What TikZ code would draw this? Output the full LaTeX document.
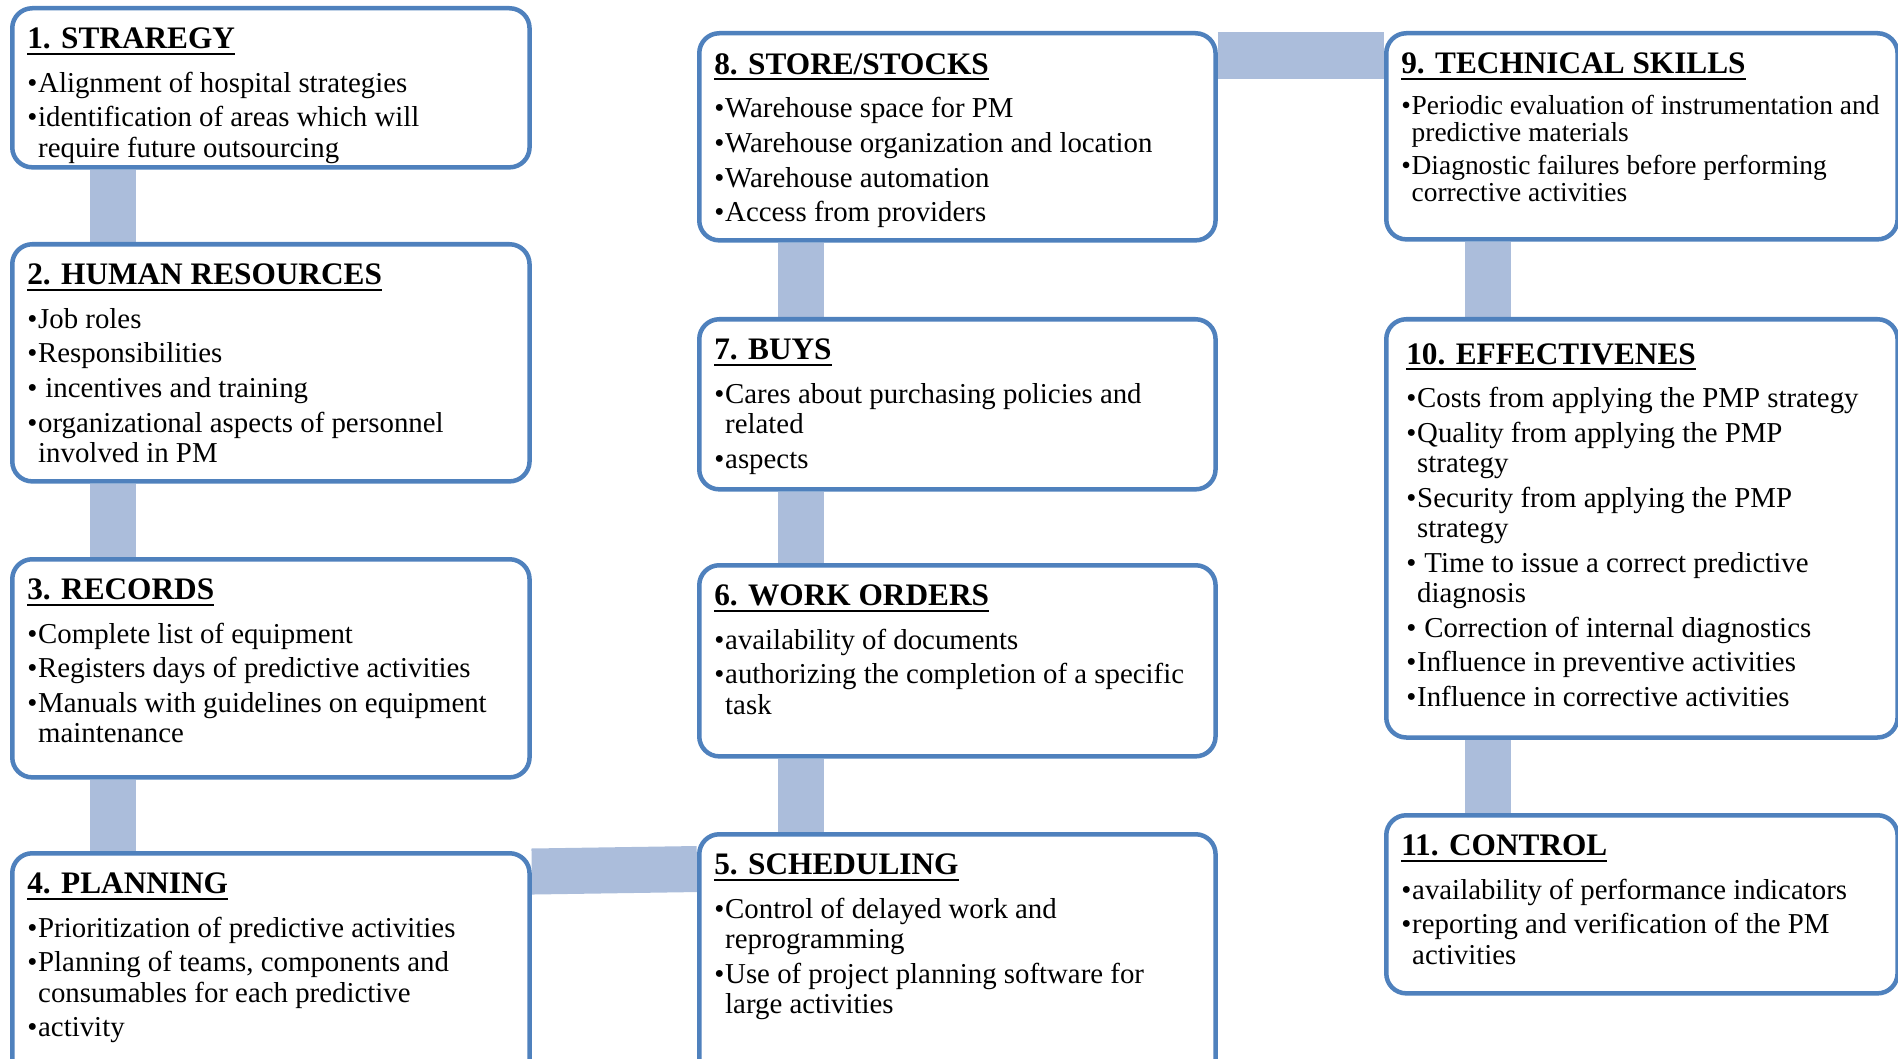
\documentclass[tikz,border=0pt]{standalone}
\usepackage{fontspec}
\setmainfont{Liberation Serif}
\pgfdeclarelayer{background}
\pgfsetlayers{background,main}
\definecolor{cardblue}{RGB}{79,129,189}
\definecolor{linkblue}{RGB}{171,189,219}

\newcommand{\titlefont}{\fontsize{8.9pt}{10pt}\selectfont\bfseries}
\newcommand{\bodyfont}{\fontsize{8.2pt}{8.54pt}\selectfont}
\newcommand{\ttlunder}[1]{\setbox0\hbox{#1}\leavevmode\rlap{\rule[-1.6pt]{\wd0}{0.55pt}}\box0}
\newcommand{\bul}[1]{\par\hangindent=0.38em\hangafter=1\noindent\makebox[0.38em][l]{\textbullet}#1}
\newcommand{\cardbody}[4]{\parbox[t][#2][t]{#1}{\raggedright\bodyfont\setlength{\parskip}{1.4pt}%
  {\titlefont\ttlunder{#3}\par}\vspace{2.3pt}#4}}

\begin{document}
\begin{tikzpicture}[x=0.01cm,y=-0.01cm,
  card/.style={draw=cardblue, line width=0.045cm, rounded corners=0.2cm, fill=white,
    anchor=north west, inner xsep=0.15cm, inner ysep=0.2cm},
  link/.style={draw=linkblue, line width=0.46cm}]
\useasboundingbox (0,0) rectangle (1898,1058);
\clip (0,0) rectangle (1898,1058);

\node[card] (s1) at (10,6) {\cardbody{4.87cm}{1.19cm}{1. STRAREGY}{%
  \bul{Alignment of hospital strategies}
  \bul{identification of areas which will\newline require future outsourcing}}};
\node[card] (s2) at (10,242) {\cardbody{4.87cm}{1.97cm}{2. HUMAN RESOURCES}{%
  \bul{Job roles}
  \bul{Responsibilities}
  \bul{\ incentives and training}
  \bul{organizational aspects of personnel\newline involved in PM}}};
\node[card] (s3) at (10,557) {\cardbody{4.87cm}{1.78cm}{3. RECORDS}{%
  \bul{Complete list of equipment}
  \bul{Registers days of predictive activities}
  \bul{Manuals with guidelines on equipment\newline maintenance}}};
\node[card] (s4) at (10,851) {\cardbody{4.87cm}{1.90cm}{4. PLANNING}{%
  \bul{Prioritization of predictive activities}
  \bul{Planning of teams, components and\newline consumables for each predictive}
  \bul{activity}}};

\node[card] (s8) at (697,31) {\cardbody{4.86cm}{1.67cm}{8. STORE/STOCKS}{%
  \bul{Warehouse space for PM}
  \bul{Warehouse organization and location}
  \bul{Warehouse automation}
  \bul{Access from providers}}};
\node[card] (s7) at (697,317) {\cardbody{4.86cm}{1.30cm}{7. BUYS}{%
  \bul{Cares about purchasing policies and\newline related}
  \bul{aspects}}};
\node[card] (s6) at (697,563) {\cardbody{4.86cm}{1.51cm}{6. WORK ORDERS}{%
  \bul{availability of documents}
  \bul{authorizing the completion of a specific\newline task}}};
\node[card] (s5) at (697,832) {\cardbody{4.86cm}{2.10cm}{5. SCHEDULING}{%
  \bul{Control of delayed work and\newline reprogramming}
  \bul{Use of project planning software for\newline large activities}}};

\node[card] (s9) at (1384,31) {\cardbody{4.81cm}{1.66cm}{9. TECHNICAL SKILLS}{%
  \fontsize{7.8pt}{7.8pt}\selectfont
  \bul{Periodic evaluation of instrumentation and\newline predictive materials}
  \bul{Diagnostic failures before performing\newline corrective activities}}};
\node[card, inner xsep=0.2cm, inner ysep=0.24cm] (s10) at (1384,317) {\cardbody{4.71cm}{3.70cm}{10. EFFECTIVENES}{%
  \bul{Costs from applying the PMP strategy}
  \bul{Quality from applying the PMP\newline strategy}
  \bul{Security from applying the PMP\newline strategy}
  \bul{\ Time to issue a correct predictive\newline diagnosis}
  \bul{\ Correction of internal diagnostics}
  \bul{Influence in preventive activities}
  \bul{Influence in corrective activities}}};
\node[card] (s11) at (1384,813) {\cardbody{4.81cm}{1.38cm}{11. CONTROL}{%
  \bul{availability of performance indicators}
  \bul{reporting and verification of the PM\newline activities}}};

\begin{pgfonlayer}{background}
\draw[link] ([xshift=1.03cm]s1.south west) -- ([xshift=1.03cm]s2.north west);
\draw[link] ([xshift=1.03cm]s2.south west) -- ([xshift=1.03cm]s3.north west);
\draw[link] ([xshift=1.03cm]s3.south west) -- ([xshift=1.03cm]s4.north west);
\draw[link] ([yshift=-0.205cm]s4.north east) -- ([yshift=-0.37cm]s5.north west);
\draw[link] ([xshift=1.035cm]s5.north west) -- ([xshift=1.035cm]s6.south west);
\draw[link] ([xshift=1.035cm]s6.north west) -- ([xshift=1.035cm]s7.south west);
\draw[link] ([xshift=1.035cm]s7.north west) -- ([xshift=1.035cm]s8.south west);
\draw[link] ([yshift=-0.245cm]s8.north east) -- ([yshift=-0.245cm]s9.north west);
\draw[link] ([xshift=1.04cm]s9.south west) -- ([xshift=1.04cm]s10.north west);
\draw[link] ([xshift=1.04cm]s10.south west) -- ([xshift=1.04cm]s11.north west);
\end{pgfonlayer}
\end{tikzpicture}
\end{document}
